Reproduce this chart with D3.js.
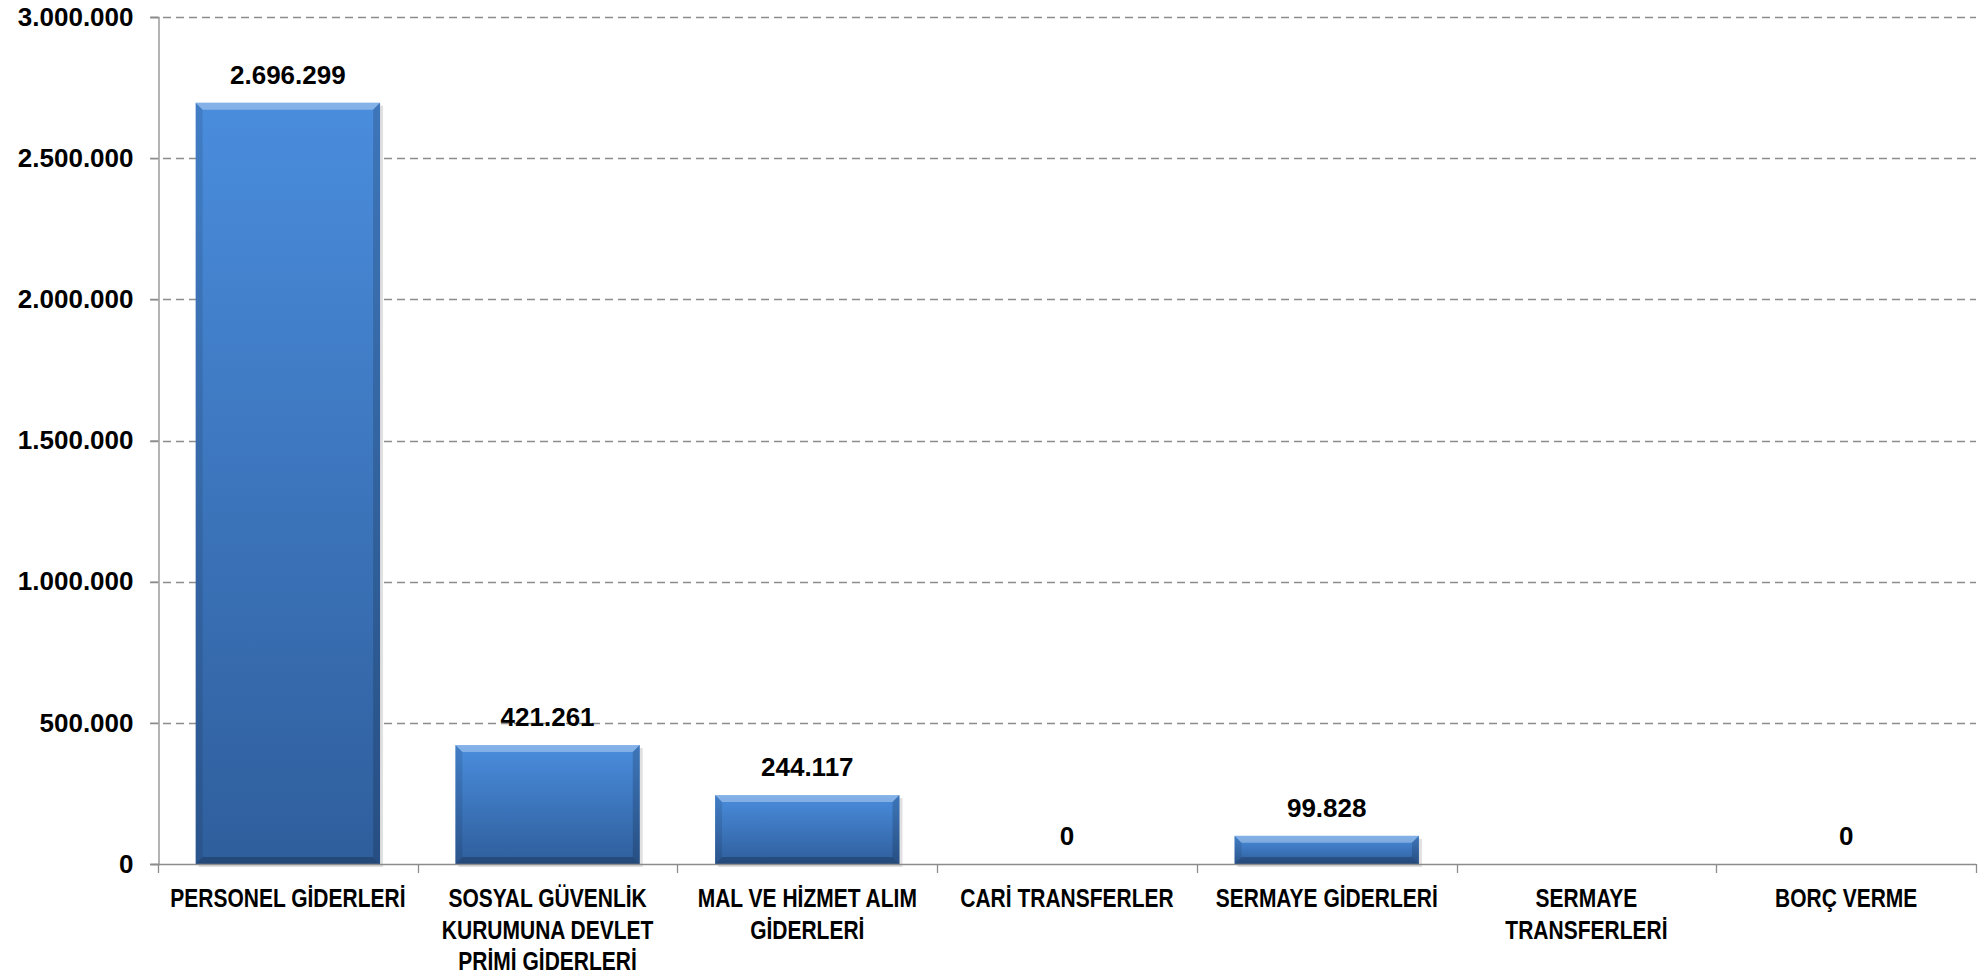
<!DOCTYPE html>
<html>
<head>
<meta charset="utf-8">
<script src="https://cdn.jsdelivr.net/npm/d3@7"></script>
<style>
  body { margin: 0; background: #ffffff; }
  svg { display: block; }
</style>
</head>
<body>
<div id="chart"></div>
<script>
// chart data
var categories = ["PERSONEL GİDERLERİ", "SOSYAL GÜVENLİK\nKURUMUNA DEVLET\nPRİMİ GİDERLERİ", "MAL VE HİZMET ALIM\nGİDERLERİ", "CARİ TRANSFERLER", "SERMAYE GİDERLERİ", "SERMAYE\nTRANSFERLERİ", "BORÇ VERME"];
var values = [2696299, 421261, 244117, 0, 99828, null, 0];
var yTicks = [0, 500000, 1000000, 1500000, 2000000, 2500000, 3000000];

var width = 1985, height = 977;
var plotLeft = 158, plotRight = 1976, plotTop = 17, plotBottom = 864;

var svg = d3.select("#chart").append("svg")
    .attr("width", width)
    .attr("height", height);

var defs = svg.append("defs");
var grad = defs.append("linearGradient")
    .attr("id", "barGrad")
    .attr("x1", 0).attr("y1", 0).attr("x2", 0).attr("y2", 1);
grad.append("stop").attr("offset", "0%").attr("stop-color", "#4a8ddd");
grad.append("stop").attr("offset", "100%").attr("stop-color", "#2f5e9c");

var x = d3.scaleBand()
    .domain(categories)
    .range([plotLeft, plotRight])
    .paddingInner(0.29)
    .paddingOuter(0.145);

var y = d3.scaleLinear()
    .domain([0, 3000000])
    .range([plotBottom, plotTop]);

// tr-TR style thousands separator
var fmt = function (v) {
    return d3.format(",")(v).replace(/,/g, ".");
};

// gridlines
svg.append("g")
    .selectAll("line")
    .data(yTicks.filter(function (d) { return d > 0; }))
    .enter().append("line")
    .attr("x1", plotLeft - 8)
    .attr("x2", plotRight)
    .attr("y1", function (d) { return Math.round(y(d)) + 0.5; })
    .attr("y2", function (d) { return Math.round(y(d)) + 0.5; })
    .attr("stroke", "#8c8c8c")
    .attr("stroke-width", 1.3)
    .attr("stroke-dasharray", "8,5");

// y axis
var yAxis = d3.axisLeft(y)
    .tickValues(yTicks)
    .tickSize(8)
    .tickPadding(17)
    .tickFormat(fmt);

var gy = svg.append("g")
    .attr("transform", "translate(" + (plotLeft + 0.5) + ",0)")
    .call(yAxis);
gy.select(".domain").attr("stroke", "#8c8c8c").attr("stroke-width", 1.3);
gy.selectAll(".tick line").attr("stroke", "#8c8c8c").attr("stroke-width", 1.3);
gy.selectAll(".tick text")
    .attr("font-family", "'Liberation Sans', Arial, sans-serif")
    .attr("font-weight", "bold")
    .attr("font-size", 26)
    .attr("fill", "#000");

// bars
var bars = svg.append("g").selectAll("g")
    .data(categories.map(function (c, i) { return {cat: c, val: values[i]}; })
        .filter(function (d) { return d.val > 0; }))
    .enter().append("g");

bars.append("rect")
    .attr("x", function (d) { return x(d.cat) + 3; })
    .attr("y", function (d) { return y(d.val) + 3; })
    .attr("width", x.bandwidth())
    .attr("height", function (d) { return plotBottom - y(d.val); })
    .attr("fill", "rgba(0,0,0,0.12)");

bars.append("rect")
    .attr("x", function (d) { return x(d.cat); })
    .attr("y", function (d) { return y(d.val); })
    .attr("width", x.bandwidth())
    .attr("height", function (d) { return plotBottom - y(d.val); })
    .attr("fill", "url(#barGrad)");

function bevel(d, side) {
    var x0 = x(d.cat), w = x.bandwidth();
    var y0 = y(d.val), h = plotBottom - y0;
    var b = Math.min(7, h / 2);
    var x1 = x0 + w, y1 = y0 + h;
    var p;
    if (side == "top") p = [[x0, y0], [x1, y0], [x1 - b, y0 + b], [x0 + b, y0 + b]];
    if (side == "left") p = [[x0, y0], [x0 + b, y0 + b], [x0 + b, y1 - b], [x0, y1]];
    if (side == "right") p = [[x1, y0], [x1 - b, y0 + b], [x1 - b, y1 - b], [x1, y1]];
    if (side == "bottom") p = [[x0, y1], [x0 + b, y1 - b], [x1 - b, y1 - b], [x1, y1]];
    return "M" + p.join("L") + "Z";
}

bars.append("path").attr("d", function (d) { return bevel(d, "top"); }).attr("fill", "rgba(255,255,255,0.32)");
bars.append("path").attr("d", function (d) { return bevel(d, "left"); }).attr("fill", "rgba(0,0,0,0.10)");
bars.append("path").attr("d", function (d) { return bevel(d, "right"); }).attr("fill", "rgba(0,0,0,0.16)");
bars.append("path").attr("d", function (d) { return bevel(d, "bottom"); }).attr("fill", "rgba(0,0,0,0.22)");

// value labels
svg.append("g").selectAll("text")
    .data(categories.map(function (c, i) { return {cat: c, val: values[i]}; })
        .filter(function (d) { return d.val != null; }))
    .enter().append("text")
    .attr("x", function (d) { return x(d.cat) + x.bandwidth() / 2; })
    .attr("y", function (d) { return y(d.val) - 19; })
    .attr("text-anchor", "middle")
    .attr("font-family", "'Liberation Sans', Arial, sans-serif")
    .attr("font-weight", "bold")
    .attr("font-size", 26)
    .attr("fill", "#000")
    .text(function (d) { return fmt(d.val); });

// x axis
var xAxisG = svg.append("g");
xAxisG.append("line")
    .attr("x1", plotLeft - 8).attr("x2", plotRight)
    .attr("y1", plotBottom + 0.5).attr("y2", plotBottom + 0.5)
    .attr("stroke", "#8c8c8c").attr("stroke-width", 1.3);

var step = x.step();
xAxisG.selectAll(".xt")
    .data(d3.range(categories.length + 1))
    .enter().append("line")
    .attr("x1", function (i) { return Math.round(plotLeft + i * step) + 0.5; })
    .attr("x2", function (i) { return Math.round(plotLeft + i * step) + 0.5; })
    .attr("y1", plotBottom)
    .attr("y2", plotBottom + 9)
    .attr("stroke", "#8c8c8c").attr("stroke-width", 1.3);

// category labels, squeezed a bit to look like the narrow original font
var xl = xAxisG.selectAll(".xl")
    .data(categories)
    .enter().append("text")
    .attr("text-anchor", "middle")
    .attr("font-family", "'Liberation Sans', Arial, sans-serif")
    .attr("font-weight", "bold")
    .attr("font-size", 25)
    .attr("fill", "#000")
    .attr("transform", function (d) {
        var cx = x(d) + x.bandwidth() / 2;
        return "translate(" + cx + "," + (plotBottom + 43) + ") scale(0.84,1)";
    });

xl.each(function (d) {
    var t = d3.select(this);
    d.split("\n").forEach(function (line, i) {
        t.append("tspan")
            .attr("x", 0)
            .attr("y", i * 31.6)
            .text(line);
    });
});
</script>
</body>
</html>
